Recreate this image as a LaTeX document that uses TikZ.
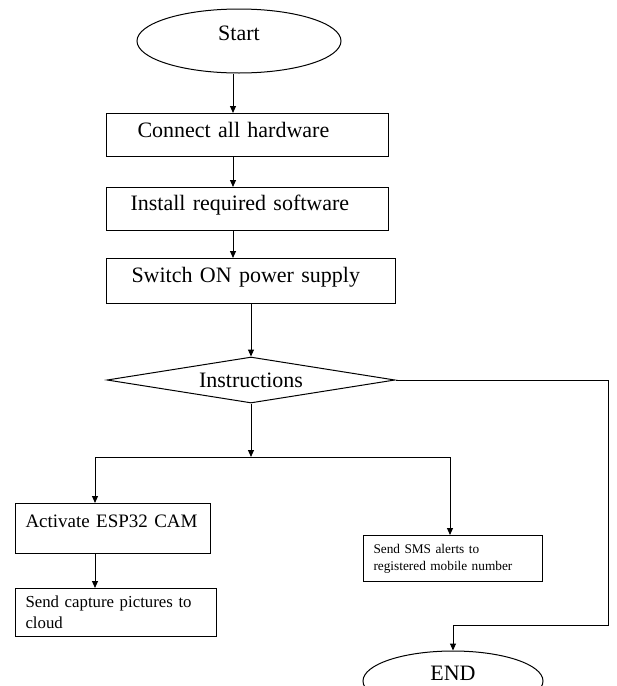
\documentclass[tikz,border=0pt]{standalone}
\usepackage{fontspec}
\setmainfont{Liberation Serif}
\usepackage{tikz}
\usetikzlibrary{arrows.meta}
\usetikzlibrary{shapes.geometric}
\tikzset{
  >={Triangle[width=6pt,length=7pt]},
  flow/.style={->, draw=black, line width=1pt},
  stepbox/.style={shape=rectangle, draw=black, line width=1pt, align=left, inner ysep=0pt, anchor=north west},
  termin/.style={shape=ellipse, draw=black, line width=1pt, inner sep=0pt, font=\fontsize{22}{26}\selectfont},
  decide/.style={shape=diamond, draw=black, line width=1pt, inner sep=0pt, aspect=6.26, font=\fontsize{22}{26}\selectfont}}

\begin{document}
\begin{tikzpicture}[x=1pt, y=-1pt]

    \useasboundingbox (0,0) rectangle (617,686);
    \clip (0,0) rectangle (617,686);

    \node[termin, minimum width=204pt, minimum height=64pt, text height=15pt, text depth=17pt] (start) at (239,41) {Start};
    \node[stepbox, text width=220pt, inner xsep=31pt, text height=24pt, text depth=19pt, font=\fontsize{22}{26}\selectfont] (hw) at (106,113) {Connect all hardware};
    \node[stepbox, text width=234pt, inner xsep=24pt, text height=23pt, text depth=20pt, font=\fontsize{22}{26}\selectfont] (sw) at (106,187) {Install required software};
    \node[stepbox, text width=239pt, inner xsep=25pt, text height=24pt, text depth=21pt, font=\fontsize{22}{26}\selectfont] (pw) at (106,258) {Switch ON power supply};
    \node[decide, minimum width=288pt, minimum height=46pt] (instr) at (251,380) {Instructions};
    \node[stepbox, text width=175pt, inner xsep=10pt, text height=24pt, text depth=26pt, font=\fontsize{19}{23}\selectfont] (cam) at (15,503) {Activate ESP32 CAM};
    \node[stepbox, text width=181pt, inner xsep=10pt, minimum height=48pt, font=\fontsize{16.8}{21}\selectfont] (cap) at (15,588) {Send capture pictures to\\cloud};
    \node[stepbox, text width=159pt, inner xsep=10pt, minimum height=46pt, font=\fontsize{13.3}{17}\selectfont] (sms) at (363,535) {Send SMS alerts to\\registered mobile number};
    \node[termin, minimum width=180pt, minimum height=60pt, text height=15pt, text depth=17pt] (fin) at (453,681) {END};

    \coordinate (colA) at (233,0);
    \coordinate (split) at (251,457);
    \coordinate (jl) at (95,457);
    \coordinate (jr) at (450,457);
    \coordinate (rt) at (608,625);

    \draw[flow] (start.south -| colA) -- (hw.north -| colA);
    \draw[flow] (hw.south -| colA) -- (sw.north -| colA);
    \draw[flow] (sw.south -| colA) -- (pw.north -| colA);
    \draw[flow] (pw.south -| instr.north) -- (instr.north);
    \draw[flow] (instr.south) -- (split);
    \draw[line width=1pt] (jl) -- (jr);
    \draw[flow] (jl) -- (cam.north -| jl);
    \draw[flow] (jr) -- (sms.north -| jr);
    \draw[flow] (cam.south -| jl) -- (cap.north -| jl);
    \draw[flow] (instr.east) -| (rt) -| (fin.north);

\end{tikzpicture}
\end{document}
